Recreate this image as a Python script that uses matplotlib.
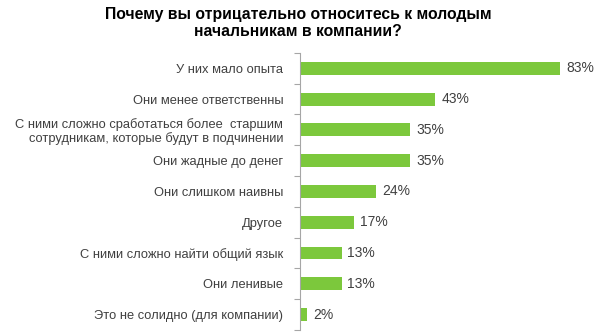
import matplotlib
matplotlib.use("Agg")
import matplotlib.pyplot as plt
import numpy as np

plt.rcParams['font.family'] = ['Liberation Sans', 'DejaVu Sans']

title = "Почему вы отрицательно относитесь к молодым\nначальникам в компании?"
categories = [
    "У них мало опыта",
    "Они менее ответственны",
    "С ними сложно сработаться более  старшим\nсотрудникам, которые будут в подчинении",
    "Они жадные до денег",
    "Они слишком наивны",
    "Другое",
    "С ними сложно найти общий язык",
    "Они ленивые",
    "Это не солидно (для компании)",
]
values = [83, 43, 35, 35, 24, 17, 13, 13, 2]

bar_color = "#7cc83c"
axis_color = "#a6a6a6"
text_color = "#404040"

fig = plt.figure(figsize=(6.0, 3.35), dpi=100)
ax = fig.add_axes([0.5, 0.015, 0.5, 0.827])

y = np.arange(len(categories))
ax.barh(y, values, height=0.42, color=bar_color, left=0.3)
ax.set_xlim(0, 96)
ax.set_ylim(len(categories) - 0.5, -0.5)

for yi, v in zip(y, values):
    ax.text(v + 0.3 + 1.9, yi, f"{v}%", va="center", ha="left",
            fontsize=10, color=text_color)

ax.set_yticks(y)
ax.set_yticklabels(categories, fontsize=9.3, color=text_color, linespacing=1.05)
ax.tick_params(axis="y", which="major", length=0, pad=12)
ax.set_yticks(np.arange(-0.5, len(categories) + 0.5, 1), minor=True)
ax.tick_params(axis="y", which="minor", length=4, width=0.8, color=axis_color)
ax.set_xticks([])

for side in ["top", "right", "bottom"]:
    ax.spines[side].set_visible(False)
ax.spines["left"].set_color(axis_color)
ax.spines["left"].set_linewidth(0.8)

fig.text(0.497, 0.978, title, ha="center", va="top", fontsize=11.3,
         fontweight="bold", color="#000000", linespacing=1.15)

fig.savefig("out.png", dpi=100)
